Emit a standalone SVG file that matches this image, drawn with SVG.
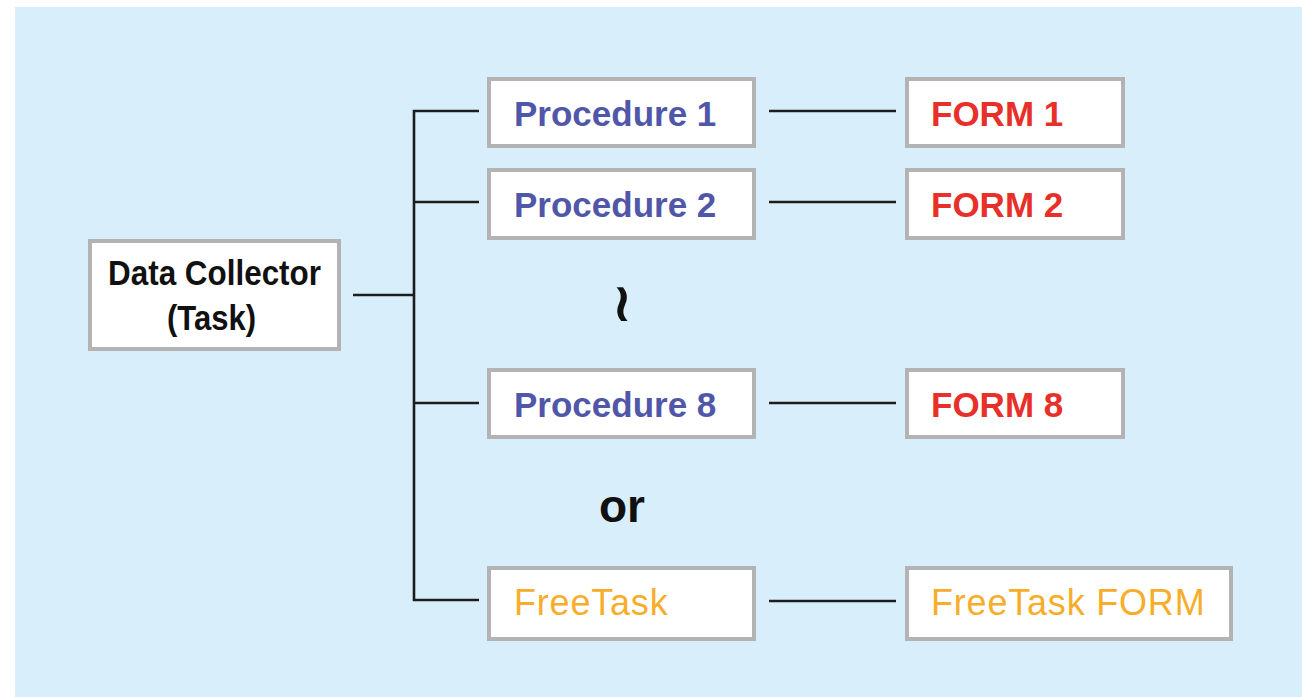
<svg xmlns="http://www.w3.org/2000/svg" width="1302" height="697" viewBox="0 0 1302 697">
<style>
.box{fill:#ffffff;stroke:#b3b3b3;stroke-width:4}
.ln{stroke:#1c1c1c;stroke-width:2.6;fill:none}
.t{font-family:"Liberation Sans",Arial,sans-serif;font-size:35px}
.proc{fill:#5057a8;font-weight:bold}
.form{fill:#e8302a;font-weight:bold}
.free{fill:#f7ad2a;letter-spacing:0.8px;font-size:36px}
.blk{fill:#111111;font-weight:bold}
</style>
<rect x="0" y="0" width="1302" height="697" fill="#ffffff"/>
<rect x="15" y="7" width="1287" height="690" fill="#d8effb"/>
<g id="connectors">
<polyline class="ln" points="479,111 414,111 414,600 479,600"/>
<line class="ln" x1="414" y1="202" x2="479" y2="202"/>
<line class="ln" x1="414" y1="403" x2="479" y2="403"/>
<line class="ln" x1="353" y1="295" x2="414" y2="295"/>
<line class="ln" x1="769" y1="111" x2="896" y2="111"/>
<line class="ln" x1="769" y1="202" x2="896" y2="202"/>
<line class="ln" x1="769" y1="403" x2="896" y2="403"/>
<line class="ln" x1="769" y1="601" x2="896" y2="601"/>
</g>
<g id="data-collector">
<rect class="box" x="90" y="241" width="249" height="108"/>
<text class="t blk" x="108" y="285" font-size="32" textLength="213" lengthAdjust="spacingAndGlyphs">Data Collector</text>
<text class="t blk" x="167" y="330" font-size="32" textLength="89" lengthAdjust="spacingAndGlyphs">(Task)</text>
</g>
<g id="procedure-1">
<rect class="box" x="489" y="79" width="265" height="67"/>
<text class="t proc" x="514" y="126">Procedure 1</text>
</g>
<g id="procedure-2">
<rect class="box" x="489" y="170" width="265" height="68"/>
<text class="t proc" x="514" y="217">Procedure 2</text>
</g>
<g id="procedure-8">
<rect class="box" x="489" y="370" width="265" height="67"/>
<text class="t proc" x="514" y="417">Procedure 8</text>
</g>
<g id="freetask">
<rect class="box" x="489" y="568" width="265" height="71"/>
<text class="t free" x="514" y="615">FreeTask</text>
</g>
<g id="form-1">
<rect class="box" x="907" y="79" width="216" height="67"/>
<text class="t form" x="931" y="126">FORM 1</text>
</g>
<g id="form-2">
<rect class="box" x="907" y="170" width="216" height="68"/>
<text class="t form" x="931" y="217">FORM 2</text>
</g>
<g id="form-8">
<rect class="box" x="907" y="370" width="216" height="67"/>
<text class="t form" x="931" y="417">FORM 8</text>
</g>
<g id="freetask-form">
<rect class="box" x="907" y="568" width="324" height="71"/>
<text class="t free" x="931" y="615">FreeTask FORM</text>
</g>
<text x="622" y="321" text-anchor="middle" font-family="DejaVu Sans, sans-serif" font-size="54" font-weight="bold" fill="#111111">≀</text>
<text x="622" y="522" text-anchor="middle" font-family="Liberation Sans, Arial, sans-serif" font-size="46" font-weight="bold" fill="#111111">or</text>
</svg>
